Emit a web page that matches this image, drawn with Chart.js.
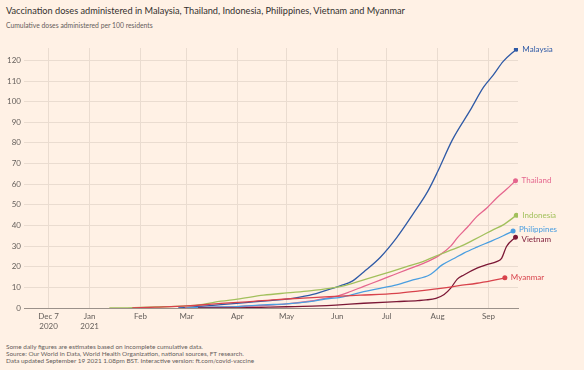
<!DOCTYPE html>
<html lang="en">
<head>
<meta charset="UTF-8">
<title>Vaccination doses administered</title>
<script src="https://cdn.jsdelivr.net/npm/chart.js"></script>
<style>
    body { margin: 0; background: #fff1e5; font-family: 'Lato', sans-serif; width: 584px; height: 370px; position: relative; overflow: hidden; }
    .title { position: absolute; left: 6px; top: 5px; font-size: 9.2px; color: #33302e; white-space: nowrap; }
    .subtitle { position: absolute; left: 6px; top: 21px; font-size: 6.8px; color: #66605c; white-space: nowrap; }
    .notes { position: absolute; left: 6px; top: 343px; font-size: 6.4px; line-height: 7px; color: #66605c; white-space: nowrap; }
    #wrap { position: absolute; left: 0; top: 36px; width: 584px; height: 300px; }
</style>
</head>
<body>
<div class="title">Vaccination doses administered in Malaysia, Thailand, Indonesia, Philippines, Vietnam and Myanmar</div>
<div class="subtitle">Cumulative doses administered per 100 residents</div>
<div id="wrap"><canvas id="vaxChart" width="584" height="300"></canvas></div>
<div class="notes">
    Some daily figures are estimates based on incomplete cumulative data.<br>
    Source: Our World in Data, World Health Organization, national sources, FT research.<br>
    Data updated September 19 2021 1.08pm BST. Interactive version: ft.com/covid-vaccine
</div>

<script>
    // x values are days since Jan 1 2021
    const tickDays = [-25, 0, 31, 59, 90, 120, 151, 181, 212, 243];
    const tickLabels = [['Dec 7', '2020'], ['Jan', '2021'], 'Feb', 'Mar', 'Apr', 'May', 'Jun', 'Jul', 'Aug', 'Sep'];

    const malaysiaDays = [54, 65, 80, 95, 110, 120, 128, 138, 146, 153, 160, 167, 177, 187, 197, 206, 212, 221, 232, 240, 246, 252, 260];
    const malaysiaValues = [0, 0.6, 1.6, 2.6, 3.6, 4.3, 5.3, 7, 9.0, 10.8, 13, 17.5, 24.5, 34, 45.5, 56.5, 66, 81.5, 96, 107, 113, 119.5, 125.4];

    const thailandDays = [58, 75, 90, 105, 120, 135, 146, 151, 159, 167, 177, 185, 193, 203, 213, 220, 224, 230, 236, 242, 248, 254, 259.5];
    const thailandValues = [0, 0.4, 0.7, 1.2, 2.0, 3.4, 5.0, 5.8, 8.0, 10.5, 13.5, 16, 18.5, 21.5, 25.5, 30, 34, 39, 44.4, 48.5, 53.3, 57.5, 61.7];

    const indonesiaDays = [12, 20, 31, 45, 59, 69, 80, 90, 106, 120, 134, 146, 156, 167, 177, 187, 195, 203, 213, 220, 228, 234, 240, 246, 252, 260];
    const indonesiaValues = [0, 0.05, 0.3, 0.6, 1.0, 1.8, 3.3, 4.3, 6.2, 7.3, 8.3, 9.5, 11, 13.6, 16, 18.5, 20.5, 22.5, 25.8, 28, 30.6, 33, 35.5, 38, 40.3, 44.9];

    const philippinesDays = [59, 75, 90, 106, 120, 134, 146, 152, 160, 167, 177, 187, 197, 207, 215, 222, 228, 236, 244, 252, 258];
    const philippinesValues = [0, 0.4, 0.7, 1.5, 2.0, 3.1, 4.6, 5, 6.5, 7.9, 9.5, 11.2, 13.6, 16, 21, 24, 26.6, 29.5, 32.2, 35, 37.3];

    const vietnamDays = [66, 90, 110, 125, 140, 150, 167, 187, 200, 205, 211, 216, 220, 224, 228, 236, 242, 248, 251, 254, 259.5];
    const vietnamValues = [0, 0.1, 0.4, 0.7, 1.0, 1.4, 2.3, 3.1, 3.6, 3.9, 4.7, 6.5, 9.6, 14, 16, 19.3, 21, 22.5, 24.1, 29.8, 34.3];

    const myanmarDays = [26, 40, 59, 80, 96, 116, 130, 146, 165, 187, 200, 215, 225, 236, 245, 253];
    const myanmarValues = [0, 0.4, 1.0, 2.2, 3.0, 4.2, 4.8, 5.5, 6.2, 7.1, 8.2, 9.6, 10.8, 12.0, 13.3, 14.6];

    const toPoints = (days, values) => days.map((d, i) => ({ x: d, y: values[i] }));

    const series = [
        { label: 'Myanmar', color: '#d8424b', days: myanmarDays, values: myanmarValues, dy: 0 },
        { label: 'Vietnam', color: '#7c1836', days: vietnamDays, values: vietnamValues, dy: 2 },
        { label: 'Philippines', color: '#4a9ee0', days: philippinesDays, values: philippinesValues, dy: -2 },
        { label: 'Indonesia', color: '#a2c05c', days: indonesiaDays, values: indonesiaValues, dy: 0 },
        { label: 'Thailand', color: '#e5668e', days: thailandDays, values: thailandValues, dy: 0 },
        { label: 'Malaysia', color: '#2f5aa6', days: malaysiaDays, values: malaysiaValues, dy: 0 }
    ];

    const endLabels = {
        id: 'endLabels',
        afterDatasetsDraw(chart) {
            const ctx = chart.ctx;
            ctx.save();
            ctx.font = '8px Lato, sans-serif';
            ctx.textBaseline = 'middle';
            chart.data.datasets.forEach((ds, i) => {
                const meta = chart.getDatasetMeta(i);
                const pt = meta.data[meta.data.length - 1];
                ctx.fillStyle = ds.borderColor;
                ctx.fillText(ds.label, pt.x + 6, pt.y + series[i].dy);
            });
            ctx.restore();
        }
    };

    new Chart(document.getElementById('vaxChart'), {
        type: 'line',
        data: {
            datasets: series.map(s => ({
                label: s.label,
                data: toPoints(s.days, s.values),
                borderColor: s.color,
                backgroundColor: s.color,
                borderWidth: 1.3,
                tension: 0.3,
                cubicInterpolationMode: 'monotone',
                pointRadius: (c) => c.dataIndex === s.days.length - 1 ? 2.5 : 0,
                pointBorderWidth: 0
            }))
        },
        options: {
            responsive: false,
            animation: false,
            layout: { padding: { top: 12, right: 66, left: 0, bottom: 0 } },
            plugins: { legend: { display: false }, tooltip: { enabled: false } },
            scales: {
                x: {
                    type: 'linear',
                    min: -40,
                    max: 261,
                    afterBuildTicks: (scale) => { scale.ticks = tickDays.map(v => ({ value: v })); },
                    afterFit: (scale) => { scale.height = 28; },
                    ticks: {
                        color: '#66605c',
                        font: { family: 'Lato', size: 8 },
                        padding: 4,
                        maxRotation: 0,
                        autoSkip: false,
                        callback: (v) => tickLabels[tickDays.indexOf(v)]
                    },
                    grid: { color: '#eadcd0', drawTicks: false },
                    border: { display: true, color: '#9b918a', width: 1 }
                },
                y: {
                    min: 0,
                    max: 126,
                    afterFit: (scale) => { scale.width = 24; },
                    ticks: {
                        stepSize: 10,
                        includeBounds: false,
                        color: '#66605c',
                        font: { family: 'Lato', size: 8 },
                        padding: 3
                    },
                    grid: { color: '#eadcd0', drawTicks: false },
                    border: { display: false }
                }
            }
        },
        plugins: [endLabels]
    });
</script>
</body>
</html>
